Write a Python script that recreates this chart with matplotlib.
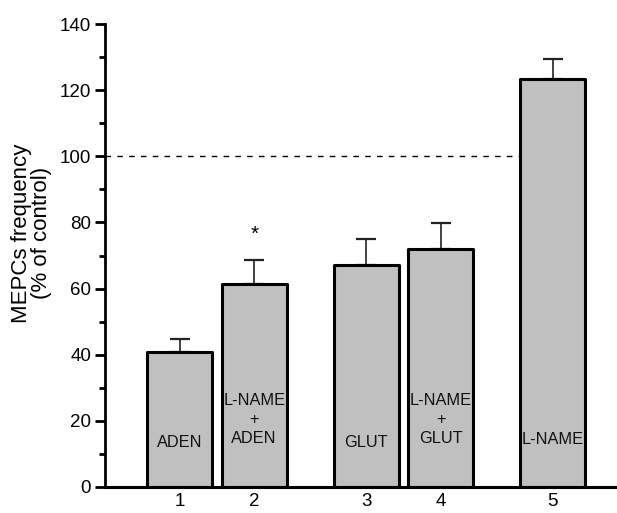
"""
MEPCs frequency bar chart (% of control).
"""

import matplotlib
matplotlib.use("Agg")
import matplotlib.pyplot as plt
from matplotlib.ticker import MultipleLocator

#######################################################
# DATA

positions = [1, 2, 3.5, 4.5, 6]
tick_labels = ["1", "2", "3", "4", "5"]
means = [40.7, 61.5, 67.1, 72.0, 123.3]
errors = [4.0, 7.2, 7.9, 7.9, 6.0]
bar_texts = ["ADEN", "L-NAME\n+\nADEN", "GLUT", "L-NAME\n+\nGLUT", "L-NAME"]
text_y = [13.6, 20.4, 13.6, 20.4, 14.3]
star_x = 2
star_y = 76.5
control_level = 100

bar_width = 0.87

#######################################################
# FIGURE

plt.rcParams["font.family"] = ["Liberation Sans"]

fig = plt.figure(figsize=(6.17, 5.13), dpi=100)
ax = fig.add_axes([0.170, 0.0507, 0.830, 0.9023])

# dashed control line stops at the last bar
ax.hlines(
    control_level,
    0,
    positions[-1] - bar_width / 2,
    color="black",
    linewidth=1.0,
    linestyles=(0, (4, 4.5)),
    zorder=1
)

ax.bar(
    positions,
    means,
    width=bar_width,
    color="#c0c0c0",
    edgecolor="black",
    linewidth=2.2,
    joinstyle="round",
    zorder=2
)

ax.errorbar(
    positions,
    means,
    yerr=[[0] * len(errors), errors],
    fmt="none",
    ecolor="#222222",
    elinewidth=1.2,
    capsize=7,
    capthick=1.6,
    zorder=1.5
)

for x, label, y in zip(positions, bar_texts, text_y):
    ax.text(
        x, y, label,
        ha="center",
        va="center",
        fontsize=11.8,
        linespacing=1.3,
        color="#111111",
        zorder=3
    )

ax.text(star_x, star_y, "*", ha="center", va="center", fontsize=15)

ax.set_xlim(0, 6.86)
ax.set_ylim(0, 140)

ax.set_xticks(positions)
ax.set_xticklabels(tick_labels, fontsize=13.5)
ax.tick_params(axis="x", length=0, pad=4)

ax.yaxis.set_major_locator(MultipleLocator(20))
ax.yaxis.set_minor_locator(MultipleLocator(10))
ax.tick_params(axis="y", which="major", length=7, width=2, labelsize=13.5, pad=3)
ax.tick_params(axis="y", which="minor", length=4, width=2)

ax.spines["top"].set_visible(False)
ax.spines["right"].set_visible(False)
ax.spines["left"].set_linewidth(2)
ax.spines["bottom"].set_linewidth(2.2)

ax.set_ylabel(
    "MEPCs frequency\n(% of control)",
    fontsize=16,
    linespacing=0.9
)
ax.yaxis.set_label_coords(-0.104, 0.549)

plt.savefig("out.png", dpi=100)
